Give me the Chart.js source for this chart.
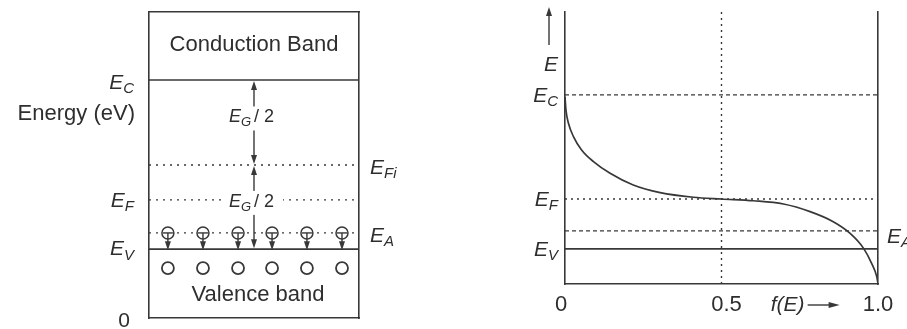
<!DOCTYPE html>
<html>
<head>
<meta charset="utf-8">
<script src="https://cdn.jsdelivr.net/npm/chart.js@4/dist/chart.umd.min.js"></script>
<style>
  body { margin: 0; background: #fff; }
  #wrap { position: relative; width: 907px; height: 329px; overflow: hidden; }
  canvas { position: absolute; top: 0; }
</style>
</head>
<body>
<div id="wrap">
  <canvas id="bandChart" width="450" height="329" style="left:0"></canvas>
  <canvas id="fermiChart" width="457" height="329" style="left:450px"></canvas>
</div>
<script>
// linkes Bild: Banddiagramm (Energie, willkürliche Einheiten 0..10)
const bandLevelNames = ['EC', 'EFi', 'EF', 'EA', 'EV'];
const bandLevelValues = [7.78, 5.0, 3.86, 2.78, 2.25];
const ionX = [0.09, 0.257, 0.424, 0.586, 0.752, 0.919];
const holeLevel = 1.63;

// rechtes Bild: Fermi-Dirac-Verteilung f(E)
const fermiLevelNames = ['EC', 'EF', 'EA', 'EV'];
const fermiLevelValues = [6.95, 3.125, 1.95, 1.29];
const curveF = [0, 0.003, 0.011, 0.027, 0.053, 0.091, 0.144, 0.218, 0.304, 0.41, 0.5,
                0.602, 0.698, 0.783, 0.857, 0.911, 0.954, 0.98, 0.996, 1.0];
const curveE = [6.88, 6.4, 5.91, 5.42, 4.93, 4.5, 4.07, 3.64, 3.36, 3.19, 3.125,
                3.06, 2.94, 2.66, 2.29, 1.86, 1.31, 0.75, 0.27, 0.02];
const fTickValues = [0, 0.5, 1];
const fTickLabels = ['0', '0.5', '1.0'];

const INK = '#383838';
const TEXT = '#2e2e2e';
const FONT = '"Liberation Sans", Arial, sans-serif';

function level(name, names, values) {
    return values[names.indexOf(name)];
}

function hLine(y, dash, width) {
    return {
        type: 'line',
        data: [{x: 0, y: y}, {x: 1, y: y}],
        borderColor: INK,
        borderWidth: width || 1.3,
        borderDash: dash || [],
        pointRadius: 0,
        order: 5
    };
}

// E mit Index zeichnen
function subLabel(ctx, main, sub, x, y, align, size) {
    ctx.save();
    ctx.fillStyle = TEXT;
    ctx.textBaseline = 'middle';
    ctx.textAlign = 'left';
    ctx.font = 'italic ' + size + 'px ' + FONT;
    const w1 = ctx.measureText(main).width;
    const subSize = Math.round(size * 0.72);
    ctx.font = 'italic ' + subSize + 'px ' + FONT;
    const w2 = ctx.measureText(sub).width;
    let x0 = x;
    if (align === 'right') x0 = x - w1 - w2;
    if (align === 'center') x0 = x - (w1 + w2) / 2;
    ctx.font = 'italic ' + size + 'px ' + FONT;
    ctx.fillText(main, x0, y);
    ctx.font = 'italic ' + subSize + 'px ' + FONT;
    ctx.fillText(sub, x0 + w1, y + size * 0.3);
    ctx.restore();
    return w1 + w2;
}

function text(ctx, str, x, y, align, size, style) {
    ctx.save();
    ctx.fillStyle = TEXT;
    ctx.textBaseline = 'middle';
    ctx.textAlign = align;
    ctx.font = (style || '') + ' ' + size + 'px ' + FONT;
    ctx.fillText(str, x, y);
    ctx.restore();
}

function arrowHead(ctx, x, y, dir) {
    // dir: 'up', 'down', 'right'
    ctx.save();
    ctx.fillStyle = INK;
    ctx.beginPath();
    if (dir === 'up') { ctx.moveTo(x, y); ctx.lineTo(x - 3, y + 9); ctx.lineTo(x + 3, y + 9); }
    if (dir === 'down') { ctx.moveTo(x, y); ctx.lineTo(x - 3, y - 9); ctx.lineTo(x + 3, y - 9); }
    if (dir === 'right') { ctx.moveTo(x, y); ctx.lineTo(x - 11, y - 3); ctx.lineTo(x - 11, y + 3); }
    ctx.closePath();
    ctx.fill();
    ctx.restore();
}

function vLine(ctx, x, y1, y2) {
    ctx.save();
    ctx.strokeStyle = INK;
    ctx.lineWidth = 1.4;
    ctx.beginPath();
    ctx.moveTo(x, y1);
    ctx.lineTo(x, y2);
    ctx.stroke();
    ctx.restore();
}

function egLabel(ctx, x, y) {
    ctx.save();
    ctx.fillStyle = '#fff';
    ctx.fillRect(x - 28, y - 11, 57, 24);
    ctx.restore();
    const w = subLabel(ctx, 'E', 'G', x - 25, y, 'left', 18);
    text(ctx, '/ 2', x - 25 + w + 3, y, 'left', 18, '');
}

function boxAxes(showTop) {
    const ax = (pos, axis) => ({
        type: 'linear', position: pos, axis: axis,
        min: 0, max: axis === 'x' ? 1 : 10,
        display: true,
        grid: {display: false, drawTicks: false},
        ticks: {display: false},
        border: {display: true, color: INK, width: 1.6}
    });
    const s = {x: ax('bottom', 'x'), y: ax('left', 'y'), y2: ax('right', 'y')};
    if (showTop) s.x2 = ax('top', 'x');
    return s;
}

// ---------- linkes Diagramm ----------
const bandLabels = {
    id: 'bandLabels',
    afterDatasetsDraw(chart) {
        const ctx = chart.ctx;
        const a = chart.chartArea;
        const xs = chart.scales.x, ys = chart.scales.y;
        const py = n => ys.getPixelForValue(level(n, bandLevelNames, bandLevelValues));

        // Pfeile der Akzeptor-Ionen zum Valenzband
        ionX.forEach(v => {
            const x = xs.getPixelForValue(v);
            vLine(ctx, x, py('EA'), py('EV') - 4);
            arrowHead(ctx, x, py('EV') + 1, 'down');
        });

        // mittlerer Pfeil E_G/2
        const xm = xs.getPixelForValue(0.5);
        vLine(ctx, xm, py('EC') + 4, py('EFi') - 4);
        vLine(ctx, xm, py('EFi') + 4, py('EV') - 4);
        arrowHead(ctx, xm, py('EC') + 1, 'up');
        arrowHead(ctx, xm, py('EFi') - 1, 'down');
        arrowHead(ctx, xm, py('EFi') + 1, 'up');
        arrowHead(ctx, xm, py('EV') - 1, 'down');
        egLabel(ctx, xm, (py('EC') + py('EFi')) / 2 - 5);
        egLabel(ctx, xm, py('EF') + 2);

        text(ctx, 'Conduction Band', xm, a.top + 33, 'center', 22, '');
        text(ctx, 'Valence band', xm + 4, a.bottom - 23, 'center', 22, '');

        const lx = a.left - 15;
        subLabel(ctx, 'E', 'C', lx, py('EC') + 3, 'right', 21);
        text(ctx, 'Energy (eV)', lx + 1, py('EC') + 34, 'right', 22, '');
        subLabel(ctx, 'E', 'F', lx, py('EF') + 1, 'right', 21);
        subLabel(ctx, 'E', 'V', lx, py('EV') + 0, 'right', 21);
        text(ctx, '0', lx - 4, a.bottom + 3, 'right', 21, '');

        const rx = a.right + 11;
        subLabel(ctx, 'E', 'Fi', rx, py('EFi') + 3, 'left', 21);
        subLabel(ctx, 'E', 'A', rx, py('EA') + 3, 'left', 21);
    }
};

const bandDatasets = [
    hLine(level('EC', bandLevelNames, bandLevelValues), [], 1.6),
    hLine(level('EFi', bandLevelNames, bandLevelValues), [2, 5]),
    hLine(level('EF', bandLevelNames, bandLevelValues), [2, 5]),
    hLine(level('EA', bandLevelNames, bandLevelValues), [2, 5]),
    hLine(level('EV', bandLevelNames, bandLevelValues), [], 1.6),
    {
        type: 'scatter',
        data: ionX.map(v => ({x: v, y: level('EA', bandLevelNames, bandLevelValues)})),
        pointStyle: 'line', pointRadius: 5, borderColor: INK, borderWidth: 1.4, order: 0
    },
    {
        type: 'scatter',
        data: ionX.map(v => ({x: v, y: level('EA', bandLevelNames, bandLevelValues)})),
        pointStyle: 'circle', pointRadius: 6, borderColor: INK, borderWidth: 1.5,
        backgroundColor: '#fff', order: 1
    },
    {
        type: 'scatter',
        data: ionX.map(v => ({x: v, y: holeLevel})),
        pointStyle: 'circle', pointRadius: 6, borderColor: INK, borderWidth: 1.8,
        backgroundColor: '#fff', order: 1
    }
];

new Chart(document.getElementById('bandChart').getContext('2d'), {
    type: 'scatter',
    data: {datasets: bandDatasets},
    options: {
        responsive: false,
        animation: false,
        devicePixelRatio: 1,
        layout: {padding: {left: 149, right: 91, top: 12, bottom: 11}},
        scales: boxAxes(true),
        plugins: {legend: {display: false}, tooltip: {enabled: false}}
    },
    plugins: [bandLabels]
});

// ---------- rechtes Diagramm ----------
const fermiLabels = {
    id: 'fermiLabels',
    afterDatasetsDraw(chart) {
        const ctx = chart.ctx;
        const a = chart.chartArea;
        const xs = chart.scales.x, ys = chart.scales.y;
        const py = n => ys.getPixelForValue(level(n, fermiLevelNames, fermiLevelValues));

        const lx = a.left - 7;
        // E-Achse mit Pfeil
        vLine(ctx, a.left - 16, 45, 12);
        arrowHead(ctx, a.left - 16, 7, 'up');
        text(ctx, 'E', lx, 65, 'right', 21, 'italic');
        subLabel(ctx, 'E', 'C', lx, py('EC') + 1, 'right', 21);
        subLabel(ctx, 'E', 'F', lx, py('EF') + 1, 'right', 21);
        subLabel(ctx, 'E', 'V', lx, py('EV') + 1, 'right', 21);
        subLabel(ctx, 'E', 'A', a.right + 9, py('EA') + 6, 'left', 21);

        // x-Achsenbeschriftung
        const ty = a.bottom + 21;
        fTickValues.forEach((v, i) => {
            let x = xs.getPixelForValue(v);
            if (i === 0) x -= 4;
            if (i === 1) x += 5;
            text(ctx, fTickLabels[i], x, ty, 'center', 22, '');
        });
        const fx = xs.getPixelForValue(0.657);
        text(ctx, 'f(E)', fx, ty, 'left', 21, 'italic');
        ctx.save();
        ctx.strokeStyle = INK;
        ctx.lineWidth = 1.4;
        ctx.beginPath();
        ctx.moveTo(fx + 37, ty);
        ctx.lineTo(fx + 62, ty);
        ctx.stroke();
        ctx.restore();
        arrowHead(ctx, fx + 69, ty, 'right');
    }
};

const fermiDatasets = [
    hLine(level('EC', fermiLevelNames, fermiLevelValues), [4, 3]),
    hLine(level('EF', fermiLevelNames, fermiLevelValues), [2, 4]),
    hLine(level('EA', fermiLevelNames, fermiLevelValues), [4, 3]),
    hLine(level('EV', fermiLevelNames, fermiLevelValues), [], 1.6),
    {
        type: 'line',
        data: [{x: 0.5, y: 0}, {x: 0.5, y: 10}],
        borderColor: INK, borderWidth: 1.4, borderDash: [2, 4], pointRadius: 0, order: 5
    },
    {
        type: 'line',
        data: curveF.map((f, i) => ({x: f, y: curveE[i]})),
        borderColor: INK, borderWidth: 1.7, pointRadius: 0,
        cubicInterpolationMode: 'monotone', order: 0
    }
];

new Chart(document.getElementById('fermiChart').getContext('2d'), {
    type: 'scatter',
    data: {datasets: fermiDatasets},
    options: {
        responsive: false,
        animation: false,
        devicePixelRatio: 1,
        layout: {padding: {left: 115, right: 29, top: 12, bottom: 45}},
        scales: boxAxes(false),
        plugins: {legend: {display: false}, tooltip: {enabled: false}}
    },
    plugins: [fermiLabels]
});
</script>
</body>
</html>
